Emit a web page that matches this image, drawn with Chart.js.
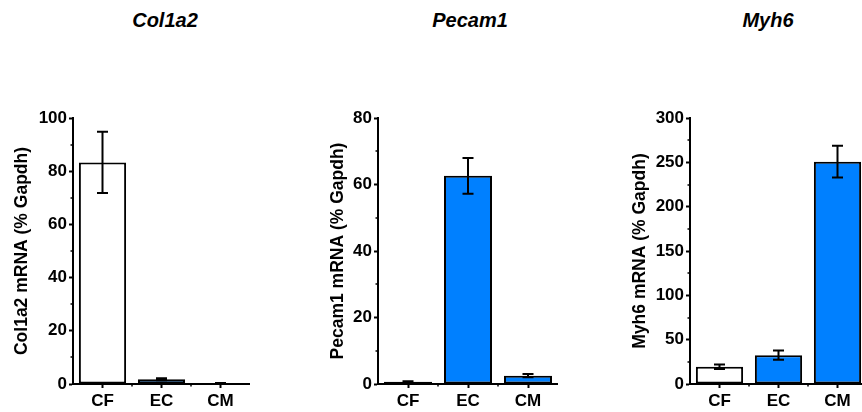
<!DOCTYPE html>
<html>
<head>
<meta charset="utf-8">
<script src="https://cdn.jsdelivr.net/npm/chart.js@4.4.0/dist/chart.umd.min.js"></script>
<style>
  html, body { margin: 0; padding: 0; background: #fff; }
  #fig { position: relative; width: 862px; height: 412px; overflow: hidden; }
  #fig canvas { position: absolute; top: 0; }
  .ttl { position: absolute; top: 9px; width: 200px; text-align: center;
         font: italic bold 20px "Liberation Sans", Arial, sans-serif; color: #000; }
</style>
</head>
<body>
<div id="fig">
  <div class="ttl" style="left:65px">Col1a2</div>
  <div class="ttl" style="left:370px">Pecam1</div>
  <div class="ttl" style="left:668px">Myh6</div>
  <canvas id="c1" width="238" height="412" style="left:12px"></canvas>
  <canvas id="c2" width="230" height="412" style="left:328px"></canvas>
  <canvas id="c3" width="237" height="412" style="left:630px"></canvas>
</div>
<script>
const categories = ['CF', 'EC', 'CM'];
const barColors = ['#ffffff', '#0080ff', '#0080ff'];

// Col1a2
const col1a2Mean = [83.3, 1.8, 0.3];
const col1a2Err  = [11.5, 0.4, 0.1];
// Pecam1
const pecam1Mean = [0.7, 62.6, 2.5];
const pecam1Err  = [0.1, 5.4, 0.5];
// Myh6
const myh6Mean = [19.5, 32.5, 250.7];
const myh6Err  = [2.5, 5.2, 17.9];

const FONT = '"Liberation Sans", Arial, sans-serif';

// error bars + minor ticks
const extras = {
  id: 'extras',
  afterDatasetsDraw(chart) {
    const ctx = chart.ctx;
    const ds = chart.data.datasets[0];
    const meta = chart.getDatasetMeta(0);
    const ys = chart.scales.y, xs = chart.scales.x;
    ctx.save();
    ctx.strokeStyle = '#000';
    ctx.lineWidth = 2;
    meta.data.forEach((bar, i) => {
      const e = ds.errors[i];
      if (!e) return;
      const top = ys.getPixelForValue(ds.data[i] + e);
      const bot = ys.getPixelForValue(ds.data[i] - e);
      const x = bar.x;
      ctx.beginPath();
      ctx.moveTo(x, top); ctx.lineTo(x, bot);
      ctx.moveTo(x - 5.5, top); ctx.lineTo(x + 5.5, top);
      ctx.moveTo(x - 5.5, bot); ctx.lineTo(x + 5.5, bot);
      ctx.stroke();
    });
    // minor y ticks
    const step = chart.options.scales.y.ticks.stepSize;
    ctx.lineWidth = 1.5;
    for (let v = step / 2; v < ys.max; v += step) {
      const y = Math.round(ys.getPixelForValue(v));
      ctx.beginPath();
      ctx.moveTo(chart.chartArea.left, y);
      ctx.lineTo(chart.chartArea.left - 2.5, y);
      ctx.stroke();
    }
    // minor x ticks at category boundaries
    for (let i = 1; i < categories.length; i++) {
      const x = (xs.getPixelForValue(i - 1) + xs.getPixelForValue(i)) / 2;
      ctx.beginPath();
      ctx.moveTo(x, chart.chartArea.bottom);
      ctx.lineTo(x, chart.chartArea.bottom + 2.5);
      ctx.stroke();
    }
    ctx.restore();
  }
};

function makeChart(id, title, means, errs, maxY, step, yWidth) {
  return new Chart(document.getElementById(id), {
    type: 'bar',
    data: {
      labels: categories,
      datasets: [{
        data: means,
        errors: errs,
        backgroundColor: barColors,
        borderColor: '#000',
        borderWidth: 2,
        borderSkipped: false,
        categoryPercentage: 1.0,
        barPercentage: 0.8
      }]
    },
    options: {
      responsive: false,
      animation: false,
      devicePixelRatio: 1,
      layout: { padding: { top: 118, bottom: 0, left: 0, right: 0 } },
      plugins: { legend: { display: false }, tooltip: { enabled: false } },
      scales: {
        x: {
          offset: true,
          grid: { offset: false, drawOnChartArea: false, tickLength: 4, tickColor: '#000', tickWidth: 2 },
          border: { color: '#000', width: 2 },
          ticks: { color: '#000', padding: 3, font: { family: FONT, size: 17, weight: 'bold' } },
          afterFit: (s) => { s.height = 28; }
        },
        y: {
          min: 0, max: maxY,
          grid: { drawOnChartArea: false, tickLength: 4, tickColor: '#000', tickWidth: 2 },
          border: { color: '#000', width: 2 },
          ticks: { stepSize: step, color: '#000', padding: 2, font: { family: FONT, size: 17, weight: 'bold' } },
          title: { display: true, text: title, color: '#000', padding: 0,
                   font: { family: FONT, size: 17.5, weight: 'bold' } },
          afterFit: (s) => { s.width = yWidth; }
        }
      }
    },
    plugins: [extras]
  });
}

makeChart('c1', 'Col1a2 mRNA (% Gapdh)', col1a2Mean, col1a2Err, 100, 20, 61);
makeChart('c2', 'Pecam1 mRNA (% Gapdh)', pecam1Mean, pecam1Err, 80, 20, 50);
makeChart('c3', 'Myh6 mRNA (% Gapdh)', myh6Mean, myh6Err, 300, 50, 60);
</script>
</body>
</html>
